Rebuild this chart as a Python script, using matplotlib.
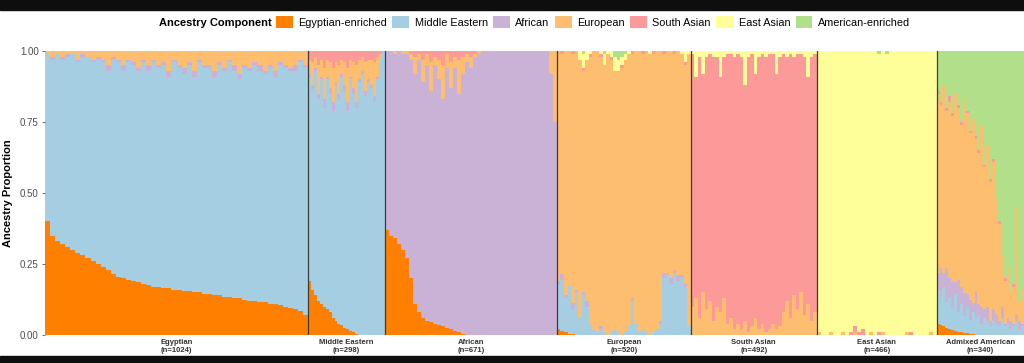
import numpy as np
import matplotlib.pyplot as plt
from matplotlib.patches import Patch, Rectangle

plt.rcParams['font.family'] = ['Liberation Sans', 'DejaVu Sans']

components = ["Egyptian-enriched", "Middle Eastern", "African", "European",
              "South Asian", "East Asian", "American-enriched"]
colors = ["#FF7F00", "#A6CEE3", "#CAB2D6", "#FDBF6F", "#FB9A99", "#FFFF99", "#B2DF8A"]
groups = ["Egyptian", "Middle Eastern", "African", "European",
          "South Asian", "East Asian", "Admixed American"]
group_n = [1024, 298, 671, 520, 492, 466, 340]

# ancestry in percent, one value per drawn bar (left to right inside a group)
# Egyptian
egy_egyptian = [40, 35, 33, 32, 31, 30, 29, 28, 27, 26, 25, 24, 23, 21.5, 20.5, 20, 19.5, 19, 18.5, 18,
                17.5, 17, 17, 16.5, 16.5, 16, 16, 15.5, 15.5, 15, 15, 14.5, 14.5, 14, 14, 13.5, 13.5, 13, 13, 12.5,
                12, 12, 11.5, 11.5, 11, 11, 10.5, 10, 9.5, 9, 8.5, 7]
egy_african = [0, 1, 0, 1, 1, 0, 1, 1, 0, 1, 1, 1, 2, 1, 1, 2, 1, 1, 1, 1,
               2, 1, 1, 1, 2, 1, 1, 2, 1, 2, 1, 1, 1, 2, 1, 1, 1, 2, 2, 1,
               1, 1, 2, 1, 1, 2, 1, 1, 1, 2, 1, 1]
egy_european = [1, 2, 1, 2, 1, 1, 3, 1, 2, 3, 2, 3, 5, 2, 3, 5, 3, 4, 6, 3,
                5, 3, 5, 4, 7, 3, 5, 6, 4, 7, 3, 5, 5, 7, 4, 6, 3, 5, 8, 5,
                6, 4, 5, 7, 5, 7, 4, 5, 6, 5, 3, 5]

# Middle Eastern
me_egyptian = [19, 16, 14, 12, 11, 10, 9, 8, 6, 5, 4, 3.5, 2.5, 2, 1.5, 1, 0.5, 0, 0, 0,
               0, 0, 0, 0, 0, 0]
me_african = [1, 2, 1, 2, 1, 3, 1, 2, 3, 1, 2, 1, 2, 3, 1, 2, 2, 1, 1, 2, 1, 1, 2, 1, 0, 0]
me_european = [5, 8, 4, 10, 6, 11, 6, 9, 12, 7, 10, 5, 8, 12, 6, 9, 13, 7, 5, 10,
               7, 9, 12, 7, 2, 0]
me_south_asian = [3, 4, 2, 5, 3, 6, 3, 4, 6, 4, 5, 3, 4, 6, 3, 4, 5, 3, 2, 4, 3, 3, 4, 2, 1, 0]

# African
afr_egyptian = [37, 35, 34, 32, 30, 27, 20, 11, 8, 6, 5, 4.5, 4, 3.5, 3, 2.5, 2, 1.5, 1, 0.5,
                0, 0, 0, 0, 0, 0, 0, 0, 0, 0, 0, 0, 0, 0, 0, 0, 0, 0, 0, 0, 0, 0, 0]
afr_european = [0, 0, 1, 0, 1, 1, 2, 6, 2, 8, 4, 10, 3, 7, 12, 5, 9, 4, 12, 6,
                3, 4, 1, 1, 0, 0, 0, 0, 0, 0, 0, 0, 0, 0, 0, 0, 0, 0, 0, 0, 0, 8, 25]
afr_south_asian = [0, 0, 0, 0, 0, 0, 1, 2, 1, 3, 1, 4, 2, 3, 5, 1, 4, 2, 3, 2,
                   1, 2, 1, 0, 0, 0, 0, 0, 0, 0, 0, 0, 0, 0, 0, 0, 0, 0, 0, 0, 0, 0, 0]

# European
eur_egyptian = [2, 1.5, 1, 0.5, 0.3, 0, 0, 0, 0, 0, 0, 0, 0, 0, 0, 0, 0, 0, 0, 0,
                0, 0, 0, 0, 0, 0, 0, 0, 0, 0, 0, 0, 0, 0, 0, 0, 0, 0]
eur_middle_eastern = [16, 18, 12, 17, 9, 15, 6, 14, 10, 3, 2, 1, 2, 1, 0, 1, 2, 1, 0, 1,
                      3, 12, 4, 1, 2, 1, 0, 1, 2, 4, 20, 21, 18, 22, 19, 20, 17, 3]
eur_african = [1, 2, 1, 0, 2, 1, 0, 1, 2, 0, 0, 0, 1, 0, 0, 0, 0, 0, 0, 0,
               0, 1, 0, 0, 0, 0, 0, 0, 0, 1, 2, 1, 2, 1, 2, 1, 1, 0]
eur_south_asian = [0, 1, 0, 0, 1, 0, 0, 1, 0, 1, 0, 0, 1, 0, 0, 1, 0, 0, 1, 0,
                   0, 1, 0, 0, 1, 0, 0, 1, 0, 0, 1, 0, 0, 1, 0, 0, 1, 0]
eur_east_asian = [0, 0, 0, 0, 0, 0, 3, 5, 3, 1, 0, 0, 1, 4, 1, 2, 5, 4, 3, 2,
                  1, 0, 0, 0, 0, 0, 1, 0, 0, 0, 0, 0, 0, 0, 0, 1, 4, 1]
eur_american = [0, 0, 0, 0, 0, 0, 0, 1, 0, 0, 0, 0, 0, 1, 0, 0, 2, 3, 2, 1,
                0, 0, 0, 0, 0, 0, 0, 0, 0, 0, 0, 0, 0, 0, 0, 0, 0, 0]

# South Asian
sas_european = [10, 13, 6, 15, 9, 12, 5, 10, 8, 13, 4, 6, 2, 4, 2, 5, 1, 3, 6, 2,
                4, 1, 2, 4, 2, 3, 8, 12, 6, 14, 9, 15, 7, 11, 5, 8]
sas_east_asian = [1, 9, 2, 8, 2, 1, 2, 2, 9, 2, 1, 1, 2, 1, 2, 12, 2, 1, 8, 2,
                  1, 2, 1, 1, 8, 2, 1, 2, 1, 2, 1, 1, 2, 9, 2, 1]

# East Asian
eas_european = [1, 0, 0, 1, 0, 0, 1, 0, 0, 1, 0, 0, 0, 1, 0, 0, 1, 0, 0, 0,
                0, 0, 1, 0, 0, 0, 0, 0, 1, 0]
eas_south_asian = [0, 0, 0, 0, 0, 0, 0, 0, 1, 2, 1, 2, 0, 0, 0, 1, 0, 0, 0, 0,
                   0, 0, 0, 1, 0, 0, 0, 0, 0, 0]
eas_american = [0, 0, 0, 0, 0, 0, 0, 0, 0, 0, 0, 0, 0, 0, 0, 1, 0, 1, 0, 0,
                0, 0, 0, 0, 0, 0, 0, 0, 0, 0]

# Admixed American
amr_egyptian = [4, 3.5, 3, 2.5, 2, 1.8, 1.5, 1.2, 1, 0.8, 0.6, 0.4, 0.2, 0, 0, 0, 0, 0, 0, 0,
                0, 0, 0, 0, 0, 0, 0, 0, 0, 0]
amr_middle_eastern = [12, 10, 14, 9, 11, 8, 13, 7, 10, 6, 9, 5, 8, 6, 7, 4, 6, 5, 3, 5,
                      4, 3, 6, 3, 4, 2, 3, 5, 2, 3]
amr_african = [6, 10, 5, 12, 7, 9, 4, 11, 6, 8, 5, 7, 3, 9, 4, 6, 3, 5, 2, 4,
               3, 2, 4, 1, 2, 3, 1, 2, 3, 1]
amr_south_asian = [1, 1, 0, 1, 2, 1, 0, 1, 1, 0, 1, 1, 0, 1, 1, 0, 1, 0, 1, 1,
                   0, 1, 0, 1, 0, 0, 1, 0, 0, 0]
amr_american = [14, 18, 12, 20, 16, 22, 15, 19, 25, 17, 21, 28, 24, 30, 35, 26, 40, 33, 45, 38,
                52, 60, 72, 80, 76, 85, 82, 55, 88, 84]


def build(parts, rest):
    # parts: component index -> list, rest: component that takes what is left
    k = len(next(iter(parts.values())))
    m = np.zeros((k, 7))
    for c, vals in parts.items():
        m[:, c] = vals
    m[:, rest] = 100 - m.sum(axis=1)
    return m / 100


mats = [
    build({0: egy_egyptian, 2: egy_african, 3: egy_european}, 1),
    build({0: me_egyptian, 2: me_african, 3: me_european, 4: me_south_asian}, 1),
    build({0: afr_egyptian, 3: afr_european, 4: afr_south_asian}, 2),
    build({0: eur_egyptian, 1: eur_middle_eastern, 2: eur_african, 4: eur_south_asian,
           5: eur_east_asian, 6: eur_american}, 3),
    build({3: sas_european, 5: sas_east_asian}, 4),
    build({3: eas_european, 4: eas_south_asian, 6: eas_american}, 5),
    build({0: amr_egyptian, 1: amr_middle_eastern, 2: amr_african, 4: amr_south_asian,
           6: amr_american}, 3),
]

W, H = 1024, 363
fig = plt.figure(figsize=(W / 100, H / 100), dpi=100)
fig.patch.set_facecolor("white")
ax = fig.add_axes([45 / W, 1 - 335 / H, (W - 45) / W, 284 / H])

start = 0
centers = []
for n, m in zip(group_n, mats):
    w = n / len(m)
    x = start + w * np.arange(len(m))
    bottom = np.zeros(len(m))
    for c in range(7):
        ax.bar(x, m[:, c], width=w, bottom=bottom, align="edge", color=colors[c],
               linewidth=0, antialiased=False)
        bottom += m[:, c]
    centers.append(start + n / 2)
    start += n

for b in np.cumsum(group_n)[:-1]:
    ax.axvline(b, color="#3a3a3a", lw=0.9)

ax.set_xlim(0, sum(group_n))
ax.set_ylim(0, 1)
for s in ax.spines.values():
    s.set_visible(False)

ax.set_xticks(centers)
ax.set_xticklabels([f"{g}\n(n={n})" for g, n in zip(groups, group_n)],
                   fontsize=5.5, fontweight="bold", color="#333333", linespacing=1.1)
ax.tick_params(axis="x", length=0, pad=3)
ax.set_yticks([0, 0.25, 0.5, 0.75, 1.0])
ax.set_yticklabels(["0.00", "0.25", "0.50", "0.75", "1.00"], fontsize=7, color="#4d4d4d")
ax.tick_params(axis="y", length=2.5, width=0.5, color="#333333", pad=2)
ax.set_ylabel("Ancestry Proportion", fontsize=8, fontweight="bold", labelpad=5)

# legend row
ly = 1 - 22 / H
fig.text(159 / W, ly - 0.004, "Ancestry Component", fontsize=8, fontweight="bold", va="center")
handles = [Patch(facecolor=c, edgecolor="none", label=l) for c, l in zip(colors, components)]
fig.legend(handles=handles, ncol=7, loc="center left", bbox_to_anchor=(276 / W, ly),
           frameon=False, fontsize=7.8, handlelength=1.55, handleheight=1.35,
           handletextpad=0.5, columnspacing=0.5, borderaxespad=0, borderpad=0)

# dark bands of the screenshot
fig.add_artist(Rectangle((0, 1 - 10 / H), 1, 10 / H, transform=fig.transFigure,
                         color="#0e0e0e", zorder=10))
fig.add_artist(Rectangle((0, 0), 1, 7 / H, transform=fig.transFigure,
                         color="#0e0e0e", zorder=10))

fig.savefig("out.png", dpi=100)
